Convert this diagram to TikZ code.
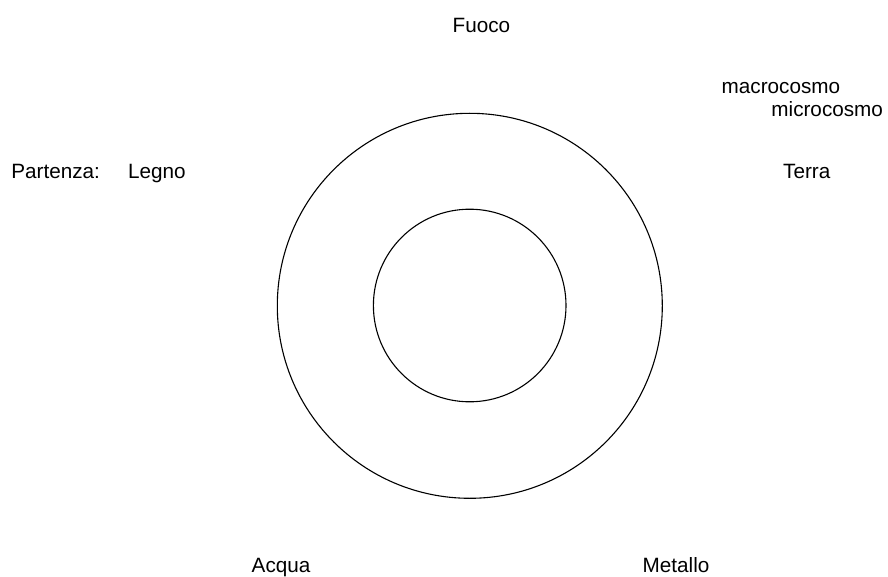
\documentclass[tikz,border=0pt]{standalone}
\usepackage{fontspec}
\setmainfont{Liberation Sans}
\begin{document}
\begin{tikzpicture}[x=1pt,y=-1pt,
  lbl/.style={inner sep=0pt, anchor=base west, font=\fontsize{20.7}{24}\selectfont},
  ring/.style={circle, draw=black, line width=1.1pt, inner sep=0pt}]
\useasboundingbox (0,0) rectangle (888,577);
\node[ring, minimum size=385pt] (outer) at (469.8,305.8) {};
\node[ring, minimum size=192.6pt] (inner) at (469.7,305.5) {};
\node[lbl] (fuoco) at (452.5,32.3) {Fuoco};
\node[lbl] (macro) at (721.5,94) {macrocosmo};
\node[lbl] (micro) at (771.2,116.7) {microcosmo};
\node[lbl] (terra) at (783,179) {Terra};
\node[lbl] (partenza) at (11.2,179) {Partenza:};
\node[lbl] (legno) at (127.8,179) {Legno};
\node[lbl] (acqua) at (251.5,572) {Acqua};
\node[lbl] (metallo) at (642.5,572) {Metallo};
\end{tikzpicture}
\end{document}
